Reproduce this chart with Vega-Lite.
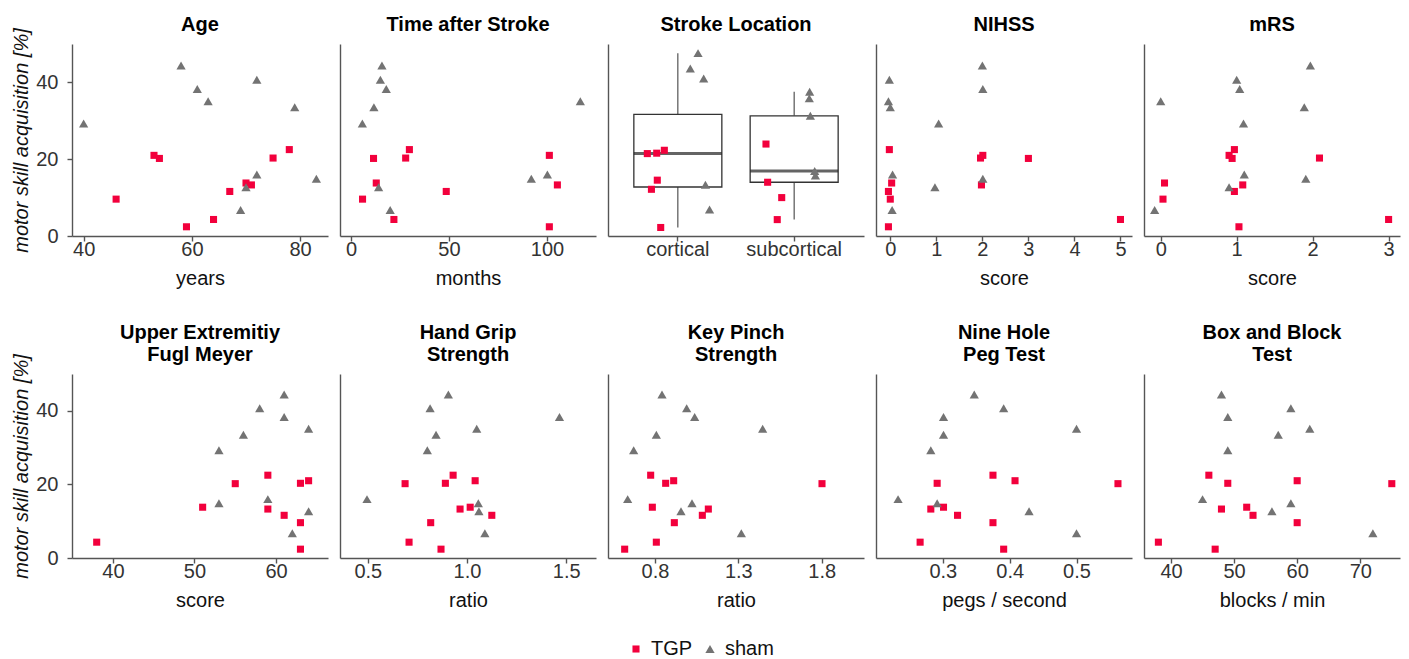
{
  "$schema": "https://vega.github.io/schema/vega-lite/v6.json",
  "padding": {"left": 11, "top": 14, "right": 9, "bottom": 5},
  "datasets": {
    "pts": [
      {"p":"age","g":"TGP","x":78,"y":22.5},{"p":"age","g":"TGP","x":53,"y":21.0},{"p":"age","g":"TGP","x":75,"y":20.3},{"p":"age","g":"TGP","x":54,"y":20.2},{"p":"age","g":"TGP","x":70,"y":13.8},{"p":"age","g":"TGP","x":71,"y":13.3},{"p":"age","g":"TGP","x":67,"y":11.6},{"p":"age","g":"TGP","x":46,"y":9.6},{"p":"age","g":"TGP","x":64,"y":4.3},{"p":"age","g":"TGP","x":59,"y":2.4},
      {"p":"age","g":"sham","x":58,"y":44.4},{"p":"age","g":"sham","x":72,"y":40.7},{"p":"age","g":"sham","x":61,"y":38.3},{"p":"age","g":"sham","x":63,"y":35.1},{"p":"age","g":"sham","x":79,"y":33.5},{"p":"age","g":"sham","x":40,"y":29.3},{"p":"age","g":"sham","x":72,"y":16.0},{"p":"age","g":"sham","x":83,"y":14.9},{"p":"age","g":"sham","x":70,"y":12.7},{"p":"age","g":"sham","x":69,"y":6.75},
      {"p":"time","g":"TGP","x":29.8,"y":22.5},{"p":"time","g":"TGP","x":101.2,"y":21.0},{"p":"time","g":"TGP","x":27.9,"y":20.3},{"p":"time","g":"TGP","x":11.5,"y":20.2},{"p":"time","g":"TGP","x":12.9,"y":13.8},{"p":"time","g":"TGP","x":105.3,"y":13.3},{"p":"time","g":"TGP","x":48.6,"y":11.6},{"p":"time","g":"TGP","x":5.9,"y":9.6},{"p":"time","g":"TGP","x":21.9,"y":4.3},{"p":"time","g":"TGP","x":101.2,"y":2.4},
      {"p":"time","g":"sham","x":15.8,"y":44.4},{"p":"time","g":"sham","x":15.0,"y":40.7},{"p":"time","g":"sham","x":18.0,"y":38.3},{"p":"time","g":"sham","x":117.0,"y":35.1},{"p":"time","g":"sham","x":11.7,"y":33.5},{"p":"time","g":"sham","x":5.8,"y":29.3},{"p":"time","g":"sham","x":100.2,"y":16.0},{"p":"time","g":"sham","x":92.0,"y":14.9},{"p":"time","g":"sham","x":14.1,"y":12.7},{"p":"time","g":"sham","x":20.0,"y":6.75},
      {"p":"nihss","g":"TGP","x":-0.02,"y":22.5},{"p":"nihss","g":"TGP","x":2.01,"y":21.0},{"p":"nihss","g":"TGP","x":1.96,"y":20.3},{"p":"nihss","g":"TGP","x":3.0,"y":20.2},{"p":"nihss","g":"TGP","x":0.03,"y":13.8},{"p":"nihss","g":"TGP","x":1.98,"y":13.3},{"p":"nihss","g":"TGP","x":-0.04,"y":11.6},{"p":"nihss","g":"TGP","x":0.0,"y":9.6},{"p":"nihss","g":"TGP","x":5.0,"y":4.3},{"p":"nihss","g":"TGP","x":-0.04,"y":2.4},
      {"p":"nihss","g":"sham","x":2.0,"y":44.4},{"p":"nihss","g":"sham","x":-0.02,"y":40.7},{"p":"nihss","g":"sham","x":2.01,"y":38.3},{"p":"nihss","g":"sham","x":-0.04,"y":35.1},{"p":"nihss","g":"sham","x":0.0,"y":33.5},{"p":"nihss","g":"sham","x":1.05,"y":29.3},{"p":"nihss","g":"sham","x":0.05,"y":16.0},{"p":"nihss","g":"sham","x":2.01,"y":14.9},{"p":"nihss","g":"sham","x":0.97,"y":12.7},{"p":"nihss","g":"sham","x":0.04,"y":6.75},
      {"p":"mrs","g":"TGP","x":0.97,"y":22.5},{"p":"mrs","g":"TGP","x":0.90,"y":21.0},{"p":"mrs","g":"TGP","x":2.09,"y":20.3},{"p":"mrs","g":"TGP","x":0.94,"y":20.2},{"p":"mrs","g":"TGP","x":0.05,"y":13.8},{"p":"mrs","g":"TGP","x":1.08,"y":13.3},{"p":"mrs","g":"TGP","x":0.97,"y":11.6},{"p":"mrs","g":"TGP","x":0.03,"y":9.6},{"p":"mrs","g":"TGP","x":3.0,"y":4.3},{"p":"mrs","g":"TGP","x":1.03,"y":2.4},
      {"p":"mrs","g":"sham","x":1.97,"y":44.4},{"p":"mrs","g":"sham","x":1.0,"y":40.7},{"p":"mrs","g":"sham","x":1.04,"y":38.3},{"p":"mrs","g":"sham","x":0.0,"y":35.1},{"p":"mrs","g":"sham","x":1.89,"y":33.5},{"p":"mrs","g":"sham","x":1.09,"y":29.3},{"p":"mrs","g":"sham","x":1.10,"y":16.0},{"p":"mrs","g":"sham","x":1.91,"y":14.9},{"p":"mrs","g":"sham","x":0.90,"y":12.7},{"p":"mrs","g":"sham","x":-0.08,"y":6.75},
      {"p":"fm","g":"TGP","x":59,"y":22.5},{"p":"fm","g":"TGP","x":64,"y":21.0},{"p":"fm","g":"TGP","x":63,"y":20.3},{"p":"fm","g":"TGP","x":55,"y":20.2},{"p":"fm","g":"TGP","x":51,"y":13.8},{"p":"fm","g":"TGP","x":59,"y":13.3},{"p":"fm","g":"TGP","x":61,"y":11.6},{"p":"fm","g":"TGP","x":63,"y":9.6},{"p":"fm","g":"TGP","x":38,"y":4.3},{"p":"fm","g":"TGP","x":63,"y":2.4},
      {"p":"fm","g":"sham","x":61,"y":44.4},{"p":"fm","g":"sham","x":58,"y":40.7},{"p":"fm","g":"sham","x":61,"y":38.3},{"p":"fm","g":"sham","x":64,"y":35.1},{"p":"fm","g":"sham","x":56,"y":33.5},{"p":"fm","g":"sham","x":53,"y":29.3},{"p":"fm","g":"sham","x":59,"y":16.0},{"p":"fm","g":"sham","x":53,"y":14.9},{"p":"fm","g":"sham","x":64,"y":12.7},{"p":"fm","g":"sham","x":62,"y":6.75},
      {"p":"grip","g":"TGP","x":0.93,"y":22.5},{"p":"grip","g":"TGP","x":1.041,"y":21.0},{"p":"grip","g":"TGP","x":0.891,"y":20.3},{"p":"grip","g":"TGP","x":0.688,"y":20.2},{"p":"grip","g":"TGP","x":1.016,"y":13.8},{"p":"grip","g":"TGP","x":0.965,"y":13.3},{"p":"grip","g":"TGP","x":1.125,"y":11.6},{"p":"grip","g":"TGP","x":0.817,"y":9.6},{"p":"grip","g":"TGP","x":0.708,"y":4.3},{"p":"grip","g":"TGP","x":0.869,"y":2.4},
      {"p":"grip","g":"sham","x":0.906,"y":44.4},{"p":"grip","g":"sham","x":0.814,"y":40.7},{"p":"grip","g":"sham","x":1.466,"y":38.3},{"p":"grip","g":"sham","x":1.049,"y":35.1},{"p":"grip","g":"sham","x":0.844,"y":33.5},{"p":"grip","g":"sham","x":0.80,"y":29.3},{"p":"grip","g":"sham","x":0.496,"y":16.0},{"p":"grip","g":"sham","x":1.057,"y":14.9},{"p":"grip","g":"sham","x":1.06,"y":12.7},{"p":"grip","g":"sham","x":1.09,"y":6.75},
      {"p":"pinch","g":"TGP","x":0.774,"y":22.5},{"p":"pinch","g":"TGP","x":0.912,"y":21.0},{"p":"pinch","g":"TGP","x":0.864,"y":20.3},{"p":"pinch","g":"TGP","x":1.802,"y":20.2},{"p":"pinch","g":"TGP","x":0.784,"y":13.8},{"p":"pinch","g":"TGP","x":1.12,"y":13.3},{"p":"pinch","g":"TGP","x":1.084,"y":11.6},{"p":"pinch","g":"TGP","x":0.916,"y":9.6},{"p":"pinch","g":"TGP","x":0.808,"y":4.3},{"p":"pinch","g":"TGP","x":0.618,"y":2.4},
      {"p":"pinch","g":"sham","x":0.842,"y":44.4},{"p":"pinch","g":"sham","x":0.99,"y":40.7},{"p":"pinch","g":"sham","x":1.038,"y":38.3},{"p":"pinch","g":"sham","x":1.446,"y":35.1},{"p":"pinch","g":"sham","x":0.808,"y":33.5},{"p":"pinch","g":"sham","x":0.672,"y":29.3},{"p":"pinch","g":"sham","x":0.636,"y":16.0},{"p":"pinch","g":"sham","x":1.022,"y":14.9},{"p":"pinch","g":"sham","x":0.956,"y":12.7},{"p":"pinch","g":"sham","x":1.318,"y":6.75},
      {"p":"peg","g":"TGP","x":0.375,"y":22.5},{"p":"peg","g":"TGP","x":0.408,"y":21.0},{"p":"peg","g":"TGP","x":0.2915,"y":20.3},{"p":"peg","g":"TGP","x":0.562,"y":20.2},{"p":"peg","g":"TGP","x":0.301,"y":13.8},{"p":"peg","g":"TGP","x":0.282,"y":13.3},{"p":"peg","g":"TGP","x":0.322,"y":11.6},{"p":"peg","g":"TGP","x":0.375,"y":9.6},{"p":"peg","g":"TGP","x":0.266,"y":4.3},{"p":"peg","g":"TGP","x":0.391,"y":2.4},
      {"p":"peg","g":"sham","x":0.347,"y":44.4},{"p":"peg","g":"sham","x":0.391,"y":40.7},{"p":"peg","g":"sham","x":0.301,"y":38.3},{"p":"peg","g":"sham","x":0.5,"y":35.1},{"p":"peg","g":"sham","x":0.301,"y":33.5},{"p":"peg","g":"sham","x":0.282,"y":29.3},{"p":"peg","g":"sham","x":0.233,"y":16.0},{"p":"peg","g":"sham","x":0.2915,"y":14.9},{"p":"peg","g":"sham","x":0.429,"y":12.7},{"p":"peg","g":"sham","x":0.5,"y":6.75},
      {"p":"bbt","g":"TGP","x":46,"y":22.5},{"p":"bbt","g":"TGP","x":60,"y":21.0},{"p":"bbt","g":"TGP","x":49,"y":20.3},{"p":"bbt","g":"TGP","x":75,"y":20.2},{"p":"bbt","g":"TGP","x":52,"y":13.8},{"p":"bbt","g":"TGP","x":48,"y":13.3},{"p":"bbt","g":"TGP","x":53,"y":11.6},{"p":"bbt","g":"TGP","x":60,"y":9.6},{"p":"bbt","g":"TGP","x":38,"y":4.3},{"p":"bbt","g":"TGP","x":47,"y":2.4},
      {"p":"bbt","g":"sham","x":48,"y":44.4},{"p":"bbt","g":"sham","x":59,"y":40.7},{"p":"bbt","g":"sham","x":49,"y":38.3},{"p":"bbt","g":"sham","x":62,"y":35.1},{"p":"bbt","g":"sham","x":57,"y":33.5},{"p":"bbt","g":"sham","x":49,"y":29.3},{"p":"bbt","g":"sham","x":45,"y":16.0},{"p":"bbt","g":"sham","x":59,"y":14.9},{"p":"bbt","g":"sham","x":56,"y":12.7},{"p":"bbt","g":"sham","x":72,"y":6.75}
    ],
    "loc": [
      {"loc":"cortical","g":"TGP","j":-0.26,"y":20.2},{"loc":"cortical","g":"TGP","j":-0.18,"y":20.3},{"loc":"cortical","g":"TGP","j":-0.115,"y":21.0},{"loc":"cortical","g":"TGP","j":-0.175,"y":13.8},{"loc":"cortical","g":"TGP","j":-0.225,"y":11.6},{"loc":"cortical","g":"TGP","j":-0.146,"y":2.4},
      {"loc":"cortical","g":"sham","j":0.172,"y":44.4},{"loc":"cortical","g":"sham","j":0.106,"y":40.7},{"loc":"cortical","g":"sham","j":0.22,"y":38.3},{"loc":"cortical","g":"sham","j":0.235,"y":12.7},{"loc":"cortical","g":"sham","j":0.27,"y":6.75},
      {"loc":"subcortical","g":"TGP","j":-0.24,"y":22.5},{"loc":"subcortical","g":"TGP","j":-0.226,"y":13.3},{"loc":"subcortical","g":"TGP","j":-0.106,"y":9.6},{"loc":"subcortical","g":"TGP","j":-0.144,"y":4.3},
      {"loc":"subcortical","g":"sham","j":0.132,"y":35.1},{"loc":"subcortical","g":"sham","j":0.129,"y":33.5},{"loc":"subcortical","g":"sham","j":0.138,"y":29.3},{"loc":"subcortical","g":"sham","j":0.175,"y":16.0},{"loc":"subcortical","g":"sham","j":0.181,"y":14.9}
    ]
  },
  "data": {"name": "pts"},
  "config": {
    "font": "Liberation Sans",
    "view": {"stroke": null},
    "axis": {"grid": false, "labelFontSize": 20, "titleFontSize": 20, "titleFontWeight": "normal", "labelColor": "#333333", "titleColor": "#111111", "domainColor": "#555555", "domainWidth": 1.4, "tickColor": "#555555", "tickWidth": 1.4, "tickSize": 5, "labelPadding": -2, "titlePadding": 9, "labelFlush": false},
    "title": {"fontSize": 20, "fontWeight": "bold", "color": "#000000", "offset": 9, "lineHeight": 22, "frame": "group"},
    "legend": {"labelFontSize": 20, "labelColor": "#111111", "symbolSize": 60, "symbolStrokeWidth": 0}
  },
  "spacing": 34,
  "resolve": {"scale": {"color": "shared", "shape": "shared"}},
  "vconcat": [
    {
      "spacing": 12,
      "hconcat": [
        {
          "width": 256, "height": 192, "title": {"text": "Age", "offset": -7},
          "transform": [{"filter": "datum.p === 'age'"}],
          "mark": {"type": "point", "filled": true, "opacity": 1},
          "encoding": {
            "x": {"field": "x", "type": "quantitative", "scale": {"domain": [37.85, 85.15], "nice": false, "zero": false}, "axis": {"values": [40, 60, 80], "title": "years"}},
            "y": {"field": "y", "type": "quantitative", "scale": {"domain": [0, 50], "nice": false}, "axis": {"values": [0, 20, 40], "title": "motor skill acquisition [%]", "titleFontStyle": "italic", "labelPadding": 9, "titlePadding": 4}},
            "color": {"field": "g", "type": "nominal", "scale": {"domain": ["TGP", "sham"], "range": ["#F2003C", "#737373"]}, "legend": {"title": null, "orient": "none", "legendX": 554, "legendY": 595, "direction": "horizontal", "columnPadding": 7, "labelOffset": 5}},
            "shape": {"field": "g", "type": "nominal", "scale": {"domain": ["TGP", "sham"], "range": ["square", "triangle-up"]}, "legend": {"title": null, "orient": "none", "legendX": 554, "legendY": 595, "direction": "horizontal", "columnPadding": 7, "labelOffset": 5}},
            "size": {"field": "g", "type": "nominal", "scale": {"domain": ["TGP", "sham"], "range": [50, 85]}, "legend": null}
          }
        },
        {
          "width": 256, "height": 192, "title": "Time after Stroke",
          "transform": [{"filter": "datum.p === 'time'"}],
          "mark": {"type": "point", "filled": true, "opacity": 1},
          "encoding": {
            "x": {"field": "x", "type": "quantitative", "scale": {"domain": [-5.6, 125], "nice": false, "zero": false}, "axis": {"values": [0, 50, 100], "title": "months"}},
            "y": {"field": "y", "type": "quantitative", "scale": {"domain": [0, 50], "nice": false}, "axis": {"labels": false, "ticks": false, "title": null}},
            "color": {"field": "g", "type": "nominal", "scale": {"domain": ["TGP", "sham"], "range": ["#F2003C", "#737373"]}},
            "shape": {"field": "g", "type": "nominal", "scale": {"domain": ["TGP", "sham"], "range": ["square", "triangle-up"]}},
            "size": {"field": "g", "type": "nominal", "scale": {"domain": ["TGP", "sham"], "range": [50, 85]}, "legend": null}
          }
        },
        {
          "width": 256, "height": 192, "title": "Stroke Location",
          "data": {"name": "loc"},
          "encoding": {
            "x": {"field": "loc", "type": "nominal", "scale": {"domain": ["cortical", "subcortical"], "paddingInner": 0.243, "paddingOuter": 0.222}, "axis": {"title": null, "labelAngle": 0}},
            "y": {"field": "y", "type": "quantitative", "scale": {"domain": [0.35, 46.6], "nice": false, "zero": false}, "axis": {"labels": false, "ticks": false, "title": null}}
          },
          "layer": [
            {
              "mark": {"type": "boxplot", "extent": 1.5, "size": 88, "outliers": false, "ticks": false,
                "box": {"fill": "white", "stroke": "#333333", "strokeWidth": 1.3},
                "median": {"color": "#222222", "thickness": 3},
                "rule": {"stroke": "#444444", "strokeWidth": 1.1}}
            },
            {
              "mark": {"type": "point", "filled": true, "opacity": 1},
              "encoding": {
                "xOffset": {"field": "j", "type": "quantitative", "scale": {"domain": [-0.375, 0.375]}},
                "color": {"field": "g", "type": "nominal", "scale": {"domain": ["TGP", "sham"], "range": ["#F2003C", "#737373"]}},
                "shape": {"field": "g", "type": "nominal", "scale": {"domain": ["TGP", "sham"], "range": ["square", "triangle-up"]}},
                "size": {"field": "g", "type": "nominal", "scale": {"domain": ["TGP", "sham"], "range": [50, 85]}, "legend": null}
              }
            }
          ]
        },
        {
          "width": 256, "height": 192, "title": "NIHSS",
          "transform": [{"filter": "datum.p === 'nihss'"}],
          "mark": {"type": "point", "filled": true, "opacity": 1},
          "encoding": {
            "x": {"field": "x", "type": "quantitative", "scale": {"domain": [-0.31, 5.25], "nice": false, "zero": false}, "axis": {"values": [0, 1, 2, 3, 4, 5], "title": "score"}},
            "y": {"field": "y", "type": "quantitative", "scale": {"domain": [0, 50], "nice": false}, "axis": {"labels": false, "ticks": false, "title": null}},
            "color": {"field": "g", "type": "nominal", "scale": {"domain": ["TGP", "sham"], "range": ["#F2003C", "#737373"]}},
            "shape": {"field": "g", "type": "nominal", "scale": {"domain": ["TGP", "sham"], "range": ["square", "triangle-up"]}},
            "size": {"field": "g", "type": "nominal", "scale": {"domain": ["TGP", "sham"], "range": [50, 85]}, "legend": null}
          }
        },
        {
          "width": 256, "height": 192, "title": "mRS",
          "transform": [{"filter": "datum.p === 'mrs'"}],
          "mark": {"type": "point", "filled": true, "opacity": 1},
          "encoding": {
            "x": {"field": "x", "type": "quantitative", "scale": {"domain": [-0.22, 3.15], "nice": false, "zero": false}, "axis": {"values": [0, 1, 2, 3], "title": "score"}},
            "y": {"field": "y", "type": "quantitative", "scale": {"domain": [0, 50], "nice": false}, "axis": {"labels": false, "ticks": false, "title": null}},
            "color": {"field": "g", "type": "nominal", "scale": {"domain": ["TGP", "sham"], "range": ["#F2003C", "#737373"]}},
            "shape": {"field": "g", "type": "nominal", "scale": {"domain": ["TGP", "sham"], "range": ["square", "triangle-up"]}},
            "size": {"field": "g", "type": "nominal", "scale": {"domain": ["TGP", "sham"], "range": [50, 85]}, "legend": null}
          }
        }
      ]
    },
    {
      "spacing": 12,
      "hconcat": [
        {
          "width": 256, "height": 184, "title": {"text": ["Upper Extremitiy", "Fugl Meyer"], "offset": -11},
          "transform": [{"filter": "datum.p === 'fm'"}],
          "mark": {"type": "point", "filled": true, "opacity": 1},
          "encoding": {
            "x": {"field": "x", "type": "quantitative", "scale": {"domain": [34.97, 66.38], "nice": false, "zero": false}, "axis": {"values": [40, 50, 60], "title": "score"}},
            "y": {"field": "y", "type": "quantitative", "scale": {"domain": [0, 50], "nice": false}, "axis": {"values": [0, 20, 40], "title": "motor skill acquisition [%]", "titleFontStyle": "italic", "labelPadding": 9, "titlePadding": 4}},
            "color": {"field": "g", "type": "nominal", "scale": {"domain": ["TGP", "sham"], "range": ["#F2003C", "#737373"]}},
            "shape": {"field": "g", "type": "nominal", "scale": {"domain": ["TGP", "sham"], "range": ["square", "triangle-up"]}},
            "size": {"field": "g", "type": "nominal", "scale": {"domain": ["TGP", "sham"], "range": [50, 85]}, "legend": null}
          }
        },
        {
          "width": 256, "height": 184, "title": ["Hand Grip", "Strength"],
          "transform": [{"filter": "datum.p === 'grip'"}],
          "mark": {"type": "point", "filled": true, "opacity": 1},
          "encoding": {
            "x": {"field": "x", "type": "quantitative", "scale": {"domain": [0.36, 1.65], "nice": false, "zero": false}, "axis": {"values": [0.5, 1.0, 1.5], "format": ".1f", "title": "ratio"}},
            "y": {"field": "y", "type": "quantitative", "scale": {"domain": [0, 50], "nice": false}, "axis": {"labels": false, "ticks": false, "title": null}},
            "color": {"field": "g", "type": "nominal", "scale": {"domain": ["TGP", "sham"], "range": ["#F2003C", "#737373"]}},
            "shape": {"field": "g", "type": "nominal", "scale": {"domain": ["TGP", "sham"], "range": ["square", "triangle-up"]}},
            "size": {"field": "g", "type": "nominal", "scale": {"domain": ["TGP", "sham"], "range": [50, 85]}, "legend": null}
          }
        },
        {
          "width": 256, "height": 184, "title": ["Key Pinch", "Strength"],
          "transform": [{"filter": "datum.p === 'pinch'"}],
          "mark": {"type": "point", "filled": true, "opacity": 1},
          "encoding": {
            "x": {"field": "x", "type": "quantitative", "scale": {"domain": [0.518, 2.054], "nice": false, "zero": false}, "axis": {"values": [0.8, 1.3, 1.8], "format": ".1f", "title": "ratio"}},
            "y": {"field": "y", "type": "quantitative", "scale": {"domain": [0, 50], "nice": false}, "axis": {"labels": false, "ticks": false, "title": null}},
            "color": {"field": "g", "type": "nominal", "scale": {"domain": ["TGP", "sham"], "range": ["#F2003C", "#737373"]}},
            "shape": {"field": "g", "type": "nominal", "scale": {"domain": ["TGP", "sham"], "range": ["square", "triangle-up"]}},
            "size": {"field": "g", "type": "nominal", "scale": {"domain": ["TGP", "sham"], "range": [50, 85]}, "legend": null}
          }
        },
        {
          "width": 256, "height": 184, "title": ["Nine Hole", "Peg Test"],
          "transform": [{"filter": "datum.p === 'peg'"}],
          "mark": {"type": "point", "filled": true, "opacity": 1},
          "encoding": {
            "x": {"field": "x", "type": "quantitative", "scale": {"domain": [0.2, 0.583], "nice": false, "zero": false}, "axis": {"values": [0.3, 0.4, 0.5], "format": ".1f", "title": "pegs / second"}},
            "y": {"field": "y", "type": "quantitative", "scale": {"domain": [0, 50], "nice": false}, "axis": {"labels": false, "ticks": false, "title": null}},
            "color": {"field": "g", "type": "nominal", "scale": {"domain": ["TGP", "sham"], "range": ["#F2003C", "#737373"]}},
            "shape": {"field": "g", "type": "nominal", "scale": {"domain": ["TGP", "sham"], "range": ["square", "triangle-up"]}},
            "size": {"field": "g", "type": "nominal", "scale": {"domain": ["TGP", "sham"], "range": [50, 85]}, "legend": null}
          }
        },
        {
          "width": 256, "height": 184, "title": ["Box and Block", "Test"],
          "transform": [{"filter": "datum.p === 'bbt'"}],
          "mark": {"type": "point", "filled": true, "opacity": 1},
          "encoding": {
            "x": {"field": "x", "type": "quantitative", "scale": {"domain": [35.72, 76.3], "nice": false, "zero": false}, "axis": {"values": [40, 50, 60, 70], "title": "blocks / min"}},
            "y": {"field": "y", "type": "quantitative", "scale": {"domain": [0, 50], "nice": false}, "axis": {"labels": false, "ticks": false, "title": null}},
            "color": {"field": "g", "type": "nominal", "scale": {"domain": ["TGP", "sham"], "range": ["#F2003C", "#737373"]}},
            "shape": {"field": "g", "type": "nominal", "scale": {"domain": ["TGP", "sham"], "range": ["square", "triangle-up"]}},
            "size": {"field": "g", "type": "nominal", "scale": {"domain": ["TGP", "sham"], "range": [50, 85]}, "legend": null}
          }
        }
      ]
    }
  ]
}
